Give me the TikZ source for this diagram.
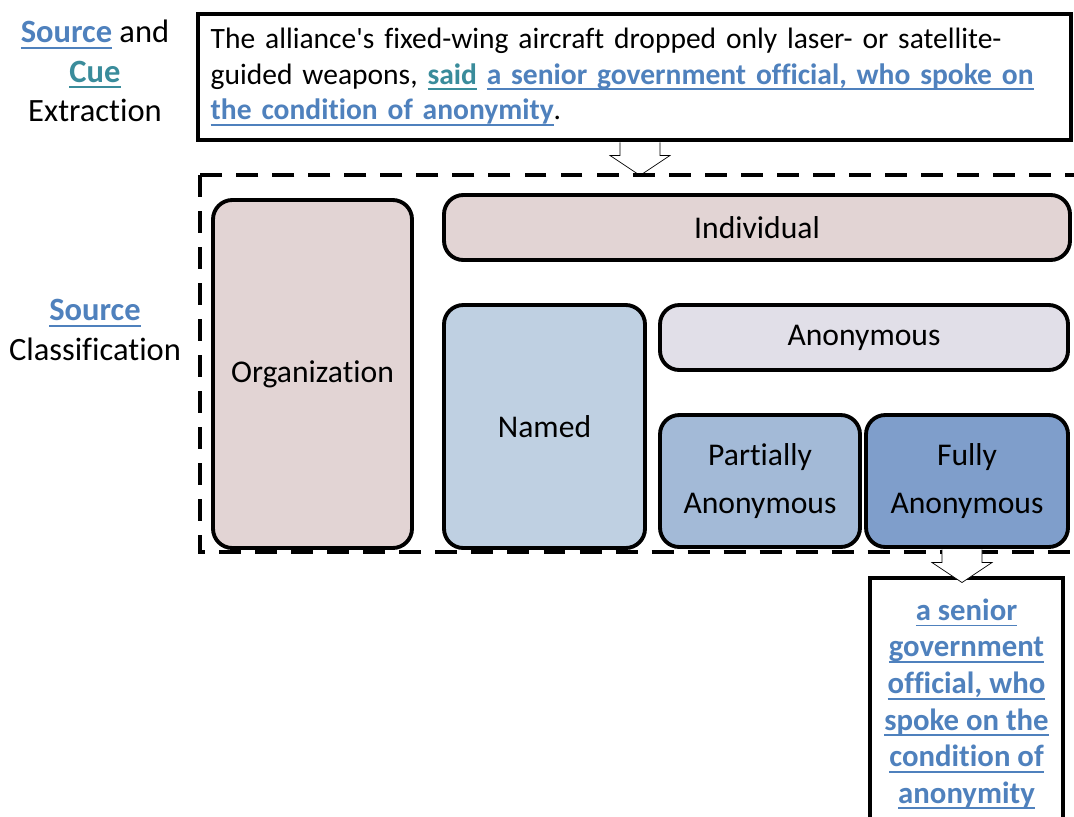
\documentclass[tikz,border=0pt]{standalone}
\usepackage{fontspec}
\setmainfont{Carlito}[Ligatures={NoCommon}]
\usetikzlibrary{positioning}

\definecolor{srcblue}{HTML}{4F81BD}
\definecolor{cueteal}{HTML}{3A8C9B}
\definecolor{orgpink}{HTML}{E2D4D4}
\definecolor{namedblue}{HTML}{BFD0E2}
\definecolor{anongrey}{HTML}{E1DFE8}
\definecolor{partblue}{HTML}{A3BAD7}
\definecolor{fullblue}{HTML}{7F9ECB}

\newcommand{\ulphrase}[1]{\leavevmode\setbox0=\hbox{#1}\rlap{\rule[-3.4pt]{\wd0}{1pt}}\box0}
\newcommand{\srcmark}[1]{{\color{srcblue}\bfseries\ulphrase{#1}}}
\newcommand{\cuemark}[1]{{\color{cueteal}\bfseries\ulphrase{#1}}}

\tikzset{
  blockdown/.pic={\draw[fill=white,thin] (-20,0)--(-20,13)--(-30,13)--(0,33)--(30,13)--(20,13)--(20,0);},
  textbox/.style={draw,line width=2.8pt,fill=white,inner sep=0pt},
  classbox/.style={draw,line width=2.2pt,rounded corners=11pt,inner sep=0pt,align=center,
    font=\fontsize{18}{27}\selectfont},
  dashframe/.style={line width=2.8pt,dash pattern=on 12.5pt off 8pt},
  steplabel/.style={align=center,font=\fontsize{18.5}{22.4}\selectfont}
}

\begin{document}
\begin{tikzpicture}[x=0.2mm,y=-0.2mm]
 \useasboundingbox (0,0) rectangle (1074,816);
 % extraction step
 \node[steplabel] (lblextract) at (95,71) {\srcmark{Source} and\\\cuemark{Cue}\\Extraction};
 \node[textbox,minimum width=174.6mm,minimum height=25.2mm,text width=169.5mm,align=left,
   font=\fontsize{16.8}{20.2}\selectfont] (tweet) at (634.5,77)
  {The alliance\textquotesingle s fixed-wing aircraft dropped only laser- or satellite-\\
   guided weapons, \cuemark{said} \srcmark{a senior government official, who spoke on}\\
   \srcmark{the condition of anonymity}.};
 \pic at ([xshift=1.1mm]tweet.south) {blockdown};
 % classification step
 \node[steplabel] (lblclass) at (95,330) {\srcmark{Source}\\Classification};
 \draw[dashframe] (200,175) rectangle (1095,552);
 \node[classbox,fill=orgpink,minimum width=39.8mm,minimum height=69.6mm] (org) at (312.5,374) {Organization};
 \node[classbox,fill=orgpink,minimum width=125.2mm,minimum height=13mm] (indiv) at (757,227.5) {Individual};
 \node[classbox,fill=namedblue,minimum width=40.2mm,minimum height=48.6mm] (named) at (544.5,426.5) {Named};
 \node[classbox,fill=anongrey,minimum width=81.6mm,minimum height=13mm] (anon) at (864,337.5) {Anonymous};
 \node[classbox,fill=partblue,minimum width=40mm,minimum height=26.4mm] (partial) at (760,481) {Partially\\Anonymous};
 \node[classbox,fill=fullblue,minimum width=40.4mm,minimum height=26.4mm] (fully) at (967,481) {Fully\\Anonymous};
 % result
 \node[textbox,minimum width=38.6mm,minimum height=50.4mm,align=center,
   font=\fontsize{17.5}{20.8}\selectfont] (result) at (966.5,704)
  {\srcmark{a senior}\\\srcmark{government}\\\srcmark{official, who}\\\srcmark{spoke on the}\\\srcmark{condition of}\\\srcmark{anonymity}};
 \pic at ([xshift=-0.9mm,yshift=5.2mm]result.north) {blockdown};
\end{tikzpicture}
\end{document}
